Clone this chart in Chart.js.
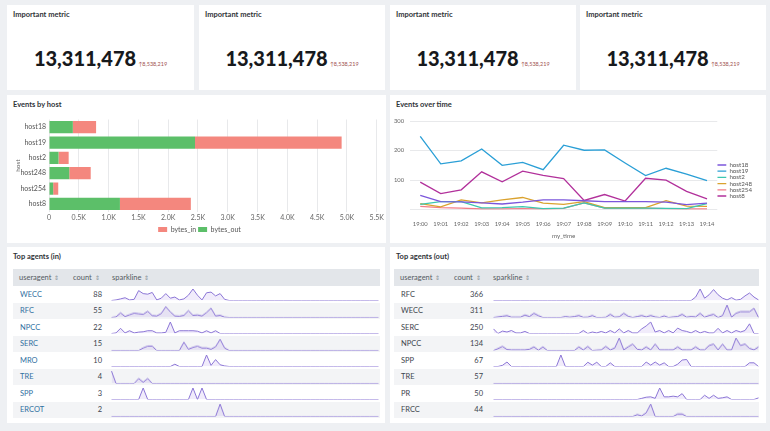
<!DOCTYPE html>
<html>
<head>
<meta charset="utf-8">
<script src="https://cdn.jsdelivr.net/npm/chart.js@4.4.1/dist/chart.umd.min.js"></script>
<style>
  body { margin: 0; width: 770px; height: 431px; overflow: hidden; background: #eef0f3;
         font-family: Lato, "Open Sans", sans-serif; color: #3c444d; position: relative; }
  .card { position: absolute; background: #fff; overflow: hidden; }
  .title { position: absolute; left: 6px; top: 6px; font-size: 7.5px; font-weight: 700; color: #2f3338; line-height: 1; }
  .metric { position: absolute; left: 0; right: 0; top: 43px; display: flex; justify-content: center; align-items: baseline; }
  .metric .big { font-size: 20px; font-weight: 900; color: #17191c; line-height: 1; }
  .metric .delta { font-size: 5.5px; color: #a0524f; margin-left: 2px; }
  .chart { position: absolute; }
  .tbl { position: absolute; top: 22px; font-size: 7.5px; }
  .row { display: flex; height: 16.5px; align-items: center; }
  .row.head { height: 17px; background: #e3e6ea; color: #555b62; }
  .row.alt { background: #f3f4f6; }
  .c1 { width: 54px; box-sizing: border-box; padding-left: 6px; }
  .row:not(.head) .c1 { padding-left: 7px; }
  .c2 { width: 41px; box-sizing: border-box; padding-right: 6px; text-align: right; }
  .head .c2 { text-align: left; padding-left: 6px; }
  .c3 { flex: 1; height: 100%; position: relative; box-sizing: border-box; }
  .head .c3 { padding-left: 4px; height: auto; }
  .sort { font-size: 5.5px; color: #8a9097; margin-left: 3px; }
  .link { color: #2f6f9f; }
  .spark { position: absolute; top: 1.5px; bottom: 1.5px; }
</style>
</head>
<body>

<div class="card" style="left:7px;top:5px;width:187px;height:85px"><div class="title">Important metric</div><div class="metric"><span class="big" id="m1"></span><span class="delta" id="d1"></span></div></div>
<div class="card" style="left:199px;top:5px;width:186px;height:85px"><div class="title">Important metric</div><div class="metric"><span class="big" id="m2"></span><span class="delta" id="d2"></span></div></div>
<div class="card" style="left:390px;top:5px;width:186px;height:85px"><div class="title">Important metric</div><div class="metric"><span class="big" id="m3"></span><span class="delta" id="d3"></span></div></div>
<div class="card" style="left:580px;top:5px;width:186px;height:85px"><div class="title">Important metric</div><div class="metric"><span class="big" id="m4"></span><span class="delta" id="d4"></span></div></div>

<div class="card" style="left:7px;top:95px;width:379px;height:148px">
  <div class="title">Events by host</div>
  <div class="chart" style="left:0;top:15px;width:379px;height:133px"><canvas id="hostChart"></canvas></div>
</div>
<div class="card" style="left:390px;top:95px;width:376px;height:148px">
  <div class="title">Events over time</div>
  <div class="chart" style="left:0;top:15px;width:376px;height:130px"><canvas id="timeChart"></canvas></div>
</div>

<div class="card" style="left:7px;top:247px;width:378px;height:176px">
  <div class="title">Top agents (in)</div>
  <div class="tbl" id="tableIn" style="left:6px;width:367px"></div>
</div>
<div class="card" style="left:390px;top:247px;width:376px;height:176px">
  <div class="title">Top agents (out)</div>
  <div class="tbl" id="tableOut" style="left:4px;width:365px"></div>
</div>

<script>
// metric cards
const metricValue = '13,311,478';
const metricDelta = '8,538,219';

// events by host (stacked bars)
const hosts = ['host18', 'host19', 'host2', 'host248', 'host254', 'host8'];
const bytesOut = [400, 2450, 160, 340, 70, 1190];
const bytesIn = [390, 2460, 170, 360, 85, 1190];

// events over time
const times = ['19:00', '19:01', '19:02', '19:03', '19:04', '19:05', '19:06', '19:07',
               '19:08', '19:09', '19:10', '19:11', '19:12', '19:13', '19:14'];
const host18 = [48, 27, 26, 23, 19, 25, 33, 33, 30, 27, 27, 27, 25, 17, 22];
const host19 = [248, 155, 165, 205, 150, 160, 135, 218, 201, 202, 158, 115, 140, 120, 98];
const host2 = [18, 27, 27, 6, 7, 10, 3, 5, 23, 5, 5, 5, 4, 3, 20];
const host248 = [20, 9, 33, 23, 33, 41, 22, 18, 27, 7, 7, 7, 30, 12, 11];
const host254 = [11, 7, 5, 2, 2, 3, 2, 4, 23, 5, 5, 5, 3, 2, 2];
const host8 = [93, 54, 67, 128, 94, 130, 116, 105, 31, 51, 29, 106, 100, 62, 36];

// top agents (in)
const agentsIn = ['WECC', 'RFC', 'NPCC', 'SERC', 'MRO', 'TRE', 'SPP', 'ERCOT'];
const countsIn = [88, 55, 22, 15, 10, 4, 3, 2];
const sparkInWECC = [0,0.5,1.4,2.4,0.5,1,8.6,6,5.5,7,0.5,2,6,2,3,0.5,1.4,4.6,10,4.6,0.5,6.7,7.3,4,6,1,0,0,0,0,0,0,0,0,0,0,0,0,0,0,0,0,0,0,0,0,0,0,0,0,0,0,0,0,0,0,0,0,0,0];
const sparkInRFC = [0,0.5,3.7,0.8,2.2,3.5,3,2.5,5,1.5,1.2,3.2,8.7,4.5,1.2,1,1.7,5.5,1.7,2,1.2,4,7.5,1.2,1.7,0.3,0,0,0,0,0,0,0,0,0,0,0,0,0,0,0,0,0,0,0,0,0,0,0,0,0,0,0,0,0,0,0,0,0,0];
const sparkInNPCC = [0,0.5,4.5,0.5,2.4,0.5,1.2,1.5,2.4,2.4,0.5,0.5,1,10,0.5,2.4,2.4,2.4,2.4,2,0.5,2.4,0.5,2.4,0,0,0,0,0,0,0,0,0,0,0,0,0,0,0,0,0,0,0,0,0,0,0,0,0,0,0,0,0,0,0,0,0,0,0,0];
const sparkInSERC = [0,0,0,0,0,0,0,2,3.5,3.5,0,0,0,0,0,0,6.7,1,2.5,3.5,2,2,1,3,9,2,0,0,0,0,0,0,0,0,0,0,0,0,0,0,0,0,0,0,0,0,0,0,0,0,0,0,0,0,0,0,0,0,0,0];
const sparkInMRO = [0,0,0,0,0,0,0,0,0,0,0,0,0,0,2,0,0,0,0,0,0,10,1,6,1.5,0.5,0,0,0,0,0,0,0,0,0,0,0,0,0,0,0,0,0,0,0,0,0,0,0,0,0,0,0,0,0,0,0,0,0,0];
const sparkInTRE = [10,0,0,0,0,0,4,1,4,0,0,0,0,0,0,0,0,0,0,0,0,0,0,0,0,0,0,0,0,0,0,0,0,0,0,0,0,0,0,0,0,0,0,0,0,0,0,0,0,0,0,0,0,0,0,0,0,0,0,0];
const sparkInSPP = [0,0,0,0,0,0,0,10,0,0,0,0,0,0,0,0,0,0,10,0,10,0,0,0,0,0,0,0,0,0,0,0,0,0,0,0,0,0,0,0,0,0,0,0,0,0,0,0,0,0,0,0,0,0,0,0,0,0,0,0];
const sparkInERCOT = [0,0,0,0,0,0,0,0,0,0,0,0,0,0,0,0,0,0,0,0,0,0,0,0,10,0,0,0,0,0,0,0,0,0,0,0,0,0,0,0,0,0,0,0,0,0,0,0,0,0,0,0,0,0,0,0,0,0,0,0];

// top agents (out)
const agentsOut = ['RFC', 'WECC', 'SERC', 'NPCC', 'SPP', 'TRE', 'PR', 'FRCC'];
const countsOut = [366, 311, 250, 134, 67, 57, 50, 44];
const sparkOutRFC = [0,0,0,0,0,0,0,0,0,0,0,0,0,0,0,0,0,0,0,0,0,0,0,0,0,0,0,0,0,0,0,0,0,0,0,0,0,0,0,0,0,0,0,0,0,3,10,2,5,9.5,5,2,0.5,2.5,0.3,1,4,6.5,3,0.5];
const sparkOutWECC = [0,0.5,1,1.5,0.3,0.3,0.3,2,0.8,3.4,1.5,0,0,0,0,0,0.8,0.3,0.8,1.6,0.2,0.3,1.6,0,0,0.2,2.6,0.3,0.6,3.4,1,0,0.8,1.6,0.5,1.6,0.5,0,1.3,0,0.5,0.8,2.6,0.3,0.8,0.5,3.4,0.3,1.6,2.6,0,1.6,10,0.3,3.4,4.7,4.7,4.7,7.4,0];
const sparkOutSERC = [4,0,2.1,1.3,2.6,0.5,0.5,1.8,0,0,0,0,0,0,0,0,0,0,0,0,2.6,0,1.3,0.5,1.8,0.5,2.6,0.5,4,0.5,2.6,0.5,0.5,4,6.6,10,1.3,2.6,0.5,2.6,0.5,4.7,2.6,1.8,0.5,2.6,0.5,1.8,0.5,0.5,4.5,0.5,2.6,0.5,2.6,1.3,2.6,8.4,0,0];
const sparkOutNPCC = [0,1.5,3.3,0.8,0.5,0.5,0.5,0.5,1,2.9,0.3,2.9,0,0,0,0,0,0,0,2.9,0.5,3.3,0,0.3,0.5,3.3,0.5,2,10,0.5,3,5.2,1,0.5,2.9,0.5,5.2,0.5,0.5,0.5,0.5,2.9,0.5,0.5,0.5,2.9,0.5,0.5,4,5.2,0.5,5.2,0.5,0.5,10,4,5.2,1.7,0.5,2.9];
const sparkOutSPP = [0,0,1,3.9,0,0,0,0,0,0,0,0,0,0,0,10,0,0,0,0,0,3.7,1.2,3.7,0,0,3.2,0,0,0,0,0,0,0,3.9,1.2,3.9,1.2,3.2,0,0,2,5.6,6.1,0,0,0,0,0,0,0,0,0,0,0,0,0,3.2,3.2,0];
const sparkOutTRE = [0,0,0,0,0,0,0,0,0,0,0,0,0,0,0,0,0,0,0,0,0,0,0,0,0,0,0,0,0,0,0,0,0,0,0,0,0,0,0,0,0,0,0,0,0,0,0,0,0,0,0,0,0,0,0,0,0,0,0,0];
const sparkOutPR = [0,0,0,0,0,0,0,0,0,0,0,0,0,0,0,0,0,0,0,0,0,0,0,0,0,0,0,0,0,0,0,0,0,1,2,2.3,1,10,2.3,2.3,2.9,2.3,5.1,0,0,0,0,3.7,1,3.7,1,1.5,2.3,0,0,0,0,0,0,1.4];
const sparkOutFRCC = [0,0,0,0,0,0,0,0,0,0,0,0,0,0,0,0,0,0,0,0,0,0,0,0,0,0,0,0,0,0,0,0,1.5,0.5,3,10,0,0,0,0,0,2,2,0,0,0,0,0,0,0,0,0,0,0,0,0,0,0,0,0];

const sparksIn = [sparkInWECC, sparkInRFC, sparkInNPCC, sparkInSERC, sparkInMRO, sparkInTRE, sparkInSPP, sparkInERCOT];
const sparksOut = [sparkOutRFC, sparkOutWECC, sparkOutSERC, sparkOutNPCC, sparkOutSPP, sparkOutTRE, sparkOutPR, sparkOutFRCC];

Chart.defaults.font.family = "Lato, 'Open Sans', sans-serif";
Chart.defaults.animation = false;

for (let i = 1; i <= 4; i++) {
    document.getElementById('m' + i).textContent = metricValue;
    document.getElementById('d' + i).textContent = '\u2191' + metricDelta;
}

// Events by host
new Chart(document.getElementById('hostChart'), {
    type: 'bar',
    data: {
        labels: hosts,
        datasets: [
            { label: 'bytes_out', data: bytesOut, backgroundColor: '#5cbf69' },
            { label: 'bytes_in', data: bytesIn, backgroundColor: '#f4877e' }
        ]
    },
    options: {
        indexAxis: 'y',
        responsive: true,
        maintainAspectRatio: false,
        events: [],
        layout: { padding: { top: 9.5, right: 0, left: 6, bottom: 0 } },
        categoryPercentage: 1,
        barPercentage: 0.8,
        plugins: {
            legend: {
                position: 'bottom',
                reverse: true,
                labels: { boxWidth: 9, boxHeight: 5, padding: 2, color: '#555', font: { size: 7 } }
            },
            tooltip: { enabled: false }
        },
        scales: {
            x: {
                stacked: true, min: 0, max: 5500,
                grid: { color: '#e8e9eb', drawTicks: false },
                border: { display: false },
                ticks: { stepSize: 500, padding: 2, color: '#666', font: { size: 7 },
                         callback: v => v === 0 ? '0' : (v / 1000).toFixed(1) + 'K' }
            },
            y: {
                stacked: true,
                grid: { display: false, drawTicks: false },
                border: { display: false },
                title: { display: true, text: 'host', color: '#666', font: { size: 6.5 }, padding: 1 },
                ticks: { color: '#555', font: { size: 7 }, padding: 3 },
                afterFit: scale => { scale.width = 36; }
            }
        }
    }
});

// Events over time
const lineSeries = [
    ['host18', host18, '#7b56db'],
    ['host19', host19, '#2a9fd6'],
    ['host2', host2, '#3cc7b0'],
    ['host248', host248, '#daa22e'],
    ['host254', host254, '#f27d86'],
    ['host8', host8, '#b2319b']
];
new Chart(document.getElementById('timeChart'), {
    type: 'line',
    data: {
        labels: times,
        datasets: lineSeries.map(([name, values, color]) => ({
            label: name, data: values, borderColor: color, backgroundColor: color,
            borderWidth: 1.3, pointRadius: 0, tension: 0, pointStyle: 'line'
        }))
    },
    options: {
        responsive: true,
        maintainAspectRatio: false,
        events: [],
        layout: { padding: { top: 11, right: 4 } },
        plugins: {
            legend: {
                position: 'right',
                labels: { usePointStyle: true, pointStyleWidth: 9, boxHeight: 6, padding: 0,
                          color: '#555', font: { size: 6.2, lineHeight: 1.05 } }
            },
            tooltip: { enabled: false }
        },
        scales: {
            x: {
                offset: true,
                grid: { display: false },
                border: { display: false },
                title: { display: true, text: 'my_time', color: '#666', font: { size: 6.2 }, padding: { top: 2, bottom: 0 } },
                ticks: { color: '#666', font: { size: 5.8 }, padding: 3, maxRotation: 0, autoSkip: false }
            },
            y: {
                min: 0, max: 300,
                grid: { color: '#e8e9eb', drawTicks: false },
                border: { display: false },
                ticks: { stepSize: 100, color: '#666', font: { size: 5.8 }, padding: 6,
                         callback: v => v === 0 ? '' : v },
                afterFit: scale => { scale.width = 20; }
            }
        }
    }
});

// tables with sparklines
function buildTable(id, names, counts, sparks, linkNames, sparkLeft, sparkRight) {
    const tbl = document.getElementById(id);
    tbl.innerHTML = '<div class="row head"><div class="c1">useragent<span class="sort">\u21d5</span></div>' +
        '<div class="c2">count<span class="sort">\u21d5</span></div>' +
        '<div class="c3">sparkline<span class="sort">\u21d5</span></div></div>';
    names.forEach((name, i) => {
        const row = document.createElement('div');
        row.className = 'row' + (i % 2 ? ' alt' : '');
        row.innerHTML = '<div class="c1' + (linkNames ? ' link' : '') + '">' + name + '</div>' +
            '<div class="c2">' + counts[i] + '</div>' +
            '<div class="c3"><div class="spark" style="left:' + sparkLeft + 'px;right:' + sparkRight + 'px"><canvas></canvas></div></div>';
        tbl.appendChild(row);
        const values = sparks[i];
        new Chart(row.querySelector('canvas'), {
            type: 'line',
            data: {
                labels: values.map((_, k) => k),
                datasets: [{
                    data: values, borderColor: '#8c76d6', borderWidth: 1,
                    backgroundColor: 'rgba(123, 86, 219, 0.11)', fill: true, pointRadius: 0, tension: 0
                }]
            },
            options: {
                responsive: true,
                maintainAspectRatio: false,
                events: [],
                layout: { padding: { top: 1, bottom: 1 } },
                plugins: { legend: { display: false }, tooltip: { enabled: false } },
                scales: {
                    x: { display: false },
                    y: { display: false, min: 0, suggestedMax: 1 }
                }
            }
        });
    });
}
buildTable('tableIn', agentsIn, countsIn, sparksIn, true, 3, 1);
buildTable('tableOut', agentsOut, countsOut, sparksOut, false, 4, 0);
</script>
</body>
</html>
